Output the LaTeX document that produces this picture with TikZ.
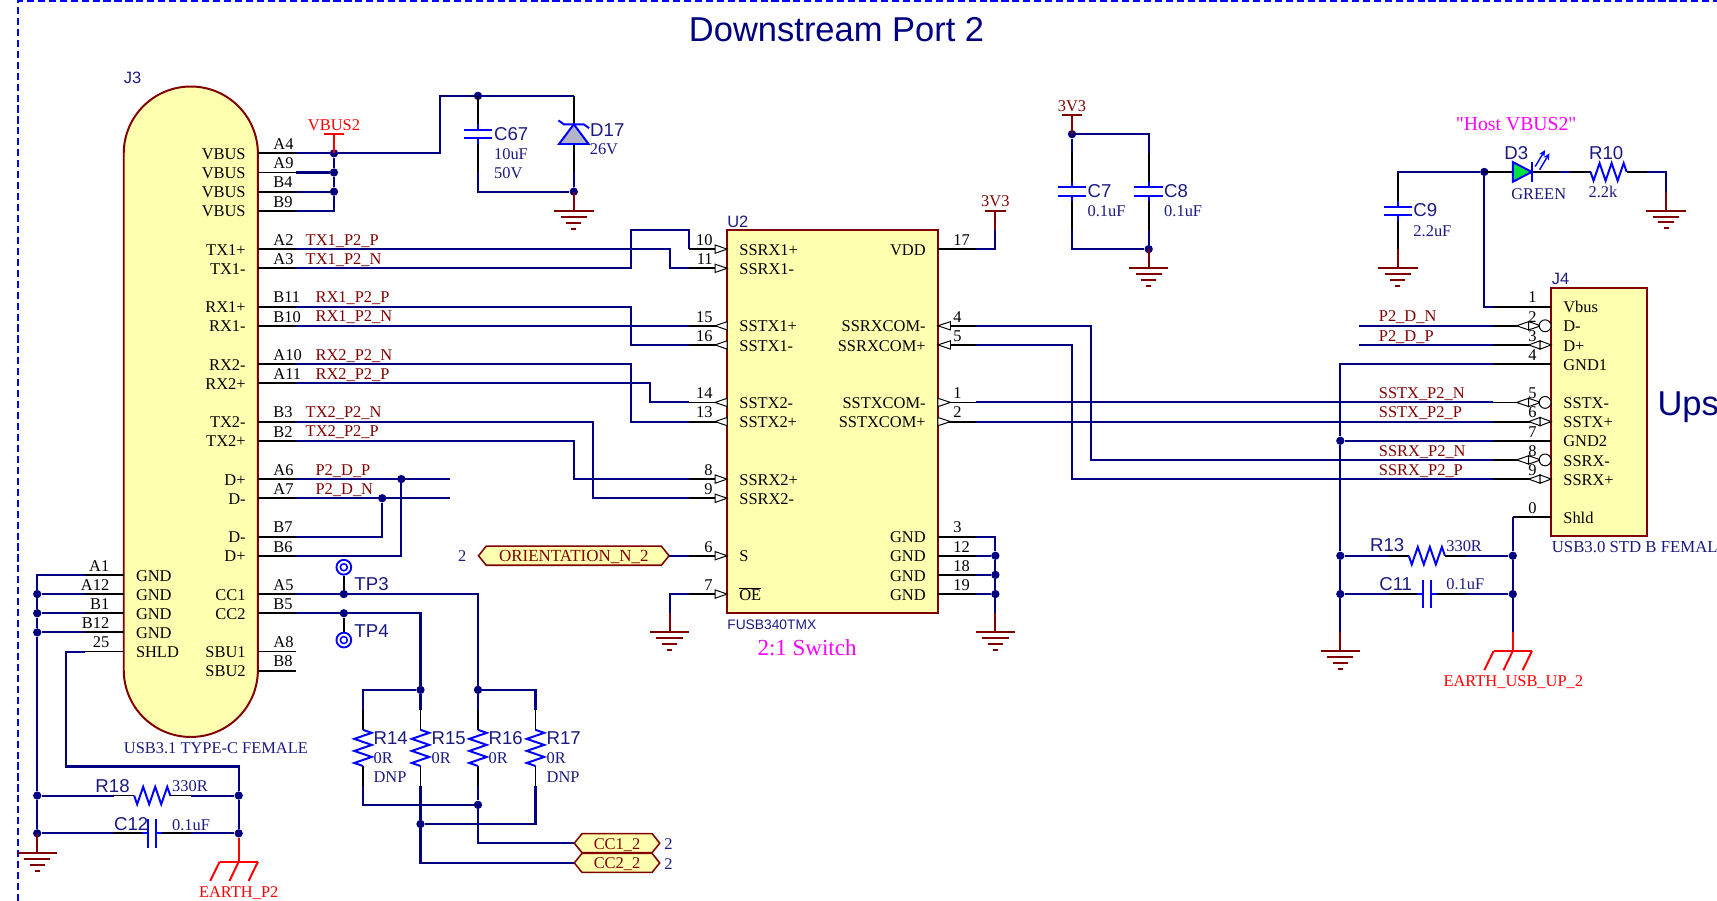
\documentclass[tikz,border=0pt]{standalone}
\usepackage{fontspec}
\usetikzlibrary{arrows.meta}
\setmainfont{Liberation Serif}
\newfontfamily\arialf{Liberation Sans}
\newfontfamily\quotef{Liberation Serif}
\definecolor{wirec}{HTML}{000080}
\definecolor{compb}{HTML}{0000FF}
\definecolor{dkred}{HTML}{800000}
\definecolor{bodyfill}{HTML}{FFFFB0}
\definecolor{txtnavy}{HTML}{1A1A80}
\definecolor{zenerfill}{HTML}{B4B4C8}
\definecolor{ledfill}{HTML}{00E040}
\definecolor{mgt}{HTML}{FF00FF}
\definecolor{netred}{HTML}{FF0000}
\newcounter{tn}
\tikzset{
  wire/.style={draw=wirec,line width=1.9pt,line join=miter},
  lead/.style={draw=black,line width=1.7pt},
  comp/.style={draw=compb,line width=1.8pt,line join=miter},
  rednet/.style={draw=netred,line width=1.8pt},
  gndline/.style={draw=dkred,line width=1.8pt},
  dot/.style={circle,fill=wirec,draw=none,inner sep=0pt,minimum size=7.6pt},
  bodybox/.style={draw=dkred,fill=bodyfill,line width=1.8pt,inner sep=0pt},
  lab/.style={inner sep=0pt,font=\fontsize{15}{15}\selectfont},
  arr/.style={draw=black,fill=white,line width=0.9pt,line join=miter},
}
% left-anchored serif text, given vertical centre of capitals
\newcommand\stxt[4]{\stepcounter{tn}\node[lab,anchor=base west,text=#3] (t\thetn) at (#1,{#2+5.5}) {#4};}
% centred serif text
\newcommand\ctxt[4]{\stepcounter{tn}\node[lab,anchor=base,text=#3] (t\thetn) at (#1,{#2+5.5}) {#4};}
% sans designator
\newcommand\atxt[3]{\stepcounter{tn}\node[inner sep=0pt,anchor=base west,text=txtnavy,font=\arialf\fontsize{17}{17}\selectfont] (t\thetn) at (#1,{#2+6.3}) {#3};}
\newcommand\asmall[4][15]{\stepcounter{tn}\node[inner sep=0pt,anchor=base west,text=txtnavy,font=\arialf\fontsize{#1}{#1}\selectfont] (t\thetn) at (#2,{#3+5.5}) {#4};}
% pins: [length]{id}{body x}{row y}{number}{name}
\newcommand\pinR[6][35]{%
  \coordinate (#2) at ({#3+#1},#4);
  \draw[lead] (#3,#4) -- (#2);
  \node[lab,anchor=base west] (#2-n) at ({#3+14},{#4-3.4}) {#5};
  \node[lab,anchor=base east] (#2-t) at ({#3-11},{#4+5.6}) {#6};}
\newcommand\pinL[6][35]{%
  \coordinate (#2) at ({#3-#1},#4);
  \draw[lead] (#3,#4) -- (#2);
  \node[lab,anchor=base east] (#2-n) at ({#3-13},{#4-3.4}) {#5};
  \node[lab,anchor=base west] (#2-t) at ({#3+11},{#4+5.6}) {#6};}
\newcommand\tria[3]{\draw[arr] (#1,#3) -- (#2,{#3-3.8}) -- (#2,{#3+3.8}) -- cycle;}
\newcommand\junction[3]{\node[dot] (#1) at (#2,#3) {};}
\newcommand\gnd[3]{%
  \coordinate (#1) at (#2,{#3-17.5});
  \begin{scope}[shift={(#2,#3)}]
  \draw[gndline] (0,-17.5) -- (0,0);
  \draw[gndline] (-18,0) -- (18,0) (-12,5.3) -- (12,5.3) (-7,10.6) -- (7,10.6);
  \draw[gndline] (-2.2,16) -- (2.2,16);
  \end{scope}}
\newcommand\earth[3]{%
  \coordinate (#1) at (#2,{#3-17.5});
  \begin{scope}[shift={(#2,#3)}]
  \draw[rednet] (0,-17.5) -- (0,0);
  \draw[rednet] (-17.5,0) -- (17.5,0);
  \draw[rednet] (-17.5,0) -- (-26,17.5) (0,0) -- (-8.5,17.5) (17.5,0) -- (9,17.5);
  \end{scope}}
\newcommand\pwr[5]{% id,x,bar y,colour,label
  \coordinate (#1) at (#2,{#3+17.5});
  \draw[draw=#4,line width=1.8pt] (#1) -- (#2,#3);
  \draw[draw=#4,line width=1.8pt] ({#2-9.5},#3) -- ({#2+9.5},#3);
  \ctxt{#2}{#3-9}{#4}{#5}}
\newcommand\rv[3]{%
  \begin{scope}[shift={(#2,#3)}]
  \coordinate (#1-a) at (0,-35); \coordinate (#1-b) at (0,35);
  \draw[lead] (#1-a) -- (0,-16.5) (0,16.5) -- (#1-b);
  \draw[comp] (0,-16.5) -- (8,-13.75) -- (-8,-8.25) -- (8,-2.75) -- (-8,2.75) -- (8,8.25) -- (-8,13.75) -- (0,16.5);
  \end{scope}}
\newcommand\rh[3]{%
  \begin{scope}[shift={(#2,#3)}]
  \coordinate (#1-a) at (-35,0); \coordinate (#1-b) at (35,0);
  \draw[lead] (#1-a) -- (-16.5,0) (16.5,0) -- (#1-b);
  \draw[comp] (-16.5,0) -- (-13.75,8) -- (-8.25,-8) -- (-2.75,8) -- (2.75,-8) -- (8.25,8) -- (13.75,-8) -- (16.5,0);
  \end{scope}}
\newcommand\cv[3]{%
  \begin{scope}[shift={(#2,#3)}]
  \coordinate (#1-a) at (0,-35); \coordinate (#1-b) at (0,35);
  \draw[lead] (#1-a) -- (0,-9) (0,9) -- (#1-b);
  \draw[comp] (0,-9) -- (0,-3.9) (0,9) -- (0,3.9);
  \draw[comp] (-13,-3.9) -- (13,-3.9) (-13,3.9) -- (13,3.9);
  \end{scope}}
\newcommand\ch[3]{%
  \begin{scope}[shift={(#2,#3)}]
  \coordinate (#1-a) at (-35,0); \coordinate (#1-b) at (35,0);
  \draw[lead] (#1-a) -- (-9,0) (9,0) -- (#1-b);
  \draw[comp] (-9,0) -- (-3.9,0) (9,0) -- (3.9,0);
  \draw[comp] (-3.9,-13) -- (-3.9,13) (3.9,-13) -- (3.9,13);
  \end{scope}}
\newcommand\port[6][15]{% [size] id,xl,xr,y,text
  \draw[draw=dkred,fill=bodyfill,line width=1.4pt] (#3,#5) -- ({#3+7},{#5-8.7}) -- ({#4-7},{#5-8.7}) -- (#4,#5) -- ({#4-7},{#5+8.7}) -- ({#3+7},{#5+8.7}) -- cycle;
  \coordinate (#2-l) at (#3,#5); \coordinate (#2-r) at (#4,#5);
  \node[inner sep=0pt,anchor=base,text=dkred,font=\fontsize{#1}{#1}\selectfont] (#2) at ({(#3+#4)/2},{#5+5.5}) {#6};}
\newcommand\testpt[3]{%
  \node[circle,draw=compb,line width=1.7pt,minimum size=13.5pt,inner sep=0pt] (#1) at (#2,#3) {};
  \draw[comp,line width=1.4pt] (#2,#3) circle[radius=3.2];}
\begin{document}
\begin{tikzpicture}[x=1pt,y=-1pt]
\useasboundingbox (0,0) rectangle (1568,822.8);
% frame
\coordinate (frameTL) at (16.5,0.8);
\coordinate (frameTR) at (1568,0.8);
\coordinate (frameBL) at (16.5,822.8);
\draw[draw=compb,line width=1.5pt,dash pattern=on 6.5pt off 3.5pt] (frameBL) -- (frameTL) -- (frameTR);
% titles
\stepcounter{tn}\node[inner sep=0pt,anchor=base west,text=wirec,font=\arialf\fontsize{31.5}{32}\selectfont] (title) at (629,38) {Downstream Port 2};
\node[inner sep=0pt,anchor=base west,text=wirec,font=\arialf\fontsize{31.5}{32}\selectfont] (upstitle) at (1513.5,379) {Ups};
% bodies
\node[bodybox,rounded corners=61.2pt,minimum width=122.5pt,minimum height=594pt] (J3) at (174.25,376) {};
\node[bodybox,minimum width=192.5pt,minimum height=350pt] (U2) at (760.25,385) {};
\node[bodybox,minimum width=87.5pt,minimum height=227pt] (J4) at (1460.25,376.1) {};
\asmall{113}{70.6}{J3}
\asmall{664}{202}{U2}
\asmall{1417}{254}{J4}
\asmall[12.6]{664}{569.5}{FUSB340TMX}
\stxt{113}{683}{txtnavy}{USB3.1 TYPE-C FEMALE}
\stxt{1417}{499}{txtnavy}{\fontsize{15.3}{15}\selectfont USB3.0 STD B FEMAL}
\stepcounter{tn}\node[inner sep=0pt,anchor=base,text=mgt,font=\fontsize{21}{21}\selectfont] (switchlab) at (737,599) {2:1 Switch};
\stepcounter{tn}\node[inner sep=0pt,anchor=base,text=mgt,font=\quotef\fontsize{18}{18}\selectfont] (hostlab) at (1384.6,119) {"Host VBUS2"};
% J3 pins
\pinR{jAf}{235.5}{140}{A4}{VBUS}
\pinR{jAn}{235.5}{157.5}{A9}{VBUS}
\pinR{jBf}{235.5}{175}{B4}{VBUS}
\pinR{jBn}{235.5}{192.5}{B9}{VBUS}
\pinR{jAtw}{235.5}{227.5}{A2}{TX1+}
\pinR{jAth}{235.5}{245}{A3}{TX1-}
\pinR{jBel}{235.5}{280}{B11}{RX1+}
\pinR{jBte}{235.5}{297.5}{B10}{RX1-}
\pinR{jAte}{235.5}{332.5}{A10}{RX2-}
\pinR{jAel}{235.5}{350}{A11}{RX2+}
\pinR{jBth}{235.5}{385}{B3}{TX2-}
\pinR{jBtw}{235.5}{402.5}{B2}{TX2+}
\pinR{jAsi}{235.5}{437.5}{A6}{D+}
\pinR{jAse}{235.5}{455}{A7}{D-}
\pinR{jBse}{235.5}{490}{B7}{D-}
\pinR{jBsi}{235.5}{507.5}{B6}{D+}
\pinR{jAfi}{235.5}{542.5}{A5}{CC1}
\pinR{jBfi}{235.5}{560}{B5}{CC2}
\pinR{jAei}{235.5}{595}{A8}{SBU1}
\pinR{jBei}{235.5}{612.5}{B8}{SBU2}
\pinL{jAo}{113}{525}{A1}{GND}
\pinL{jAtwl}{113}{542.5}{A12}{GND}
\pinL{jBo}{113}{560}{B1}{GND}
\pinL{jBtwl}{113}{577.5}{B12}{GND}
\pinL{jS}{113}{595}{25}{SHLD}
% U2 pins
\pinL{uTen}{664}{227.5}{10}{SSRX1+}
\pinL{uEle}{664}{245}{11}{SSRX1-}
\pinL{uFif}{664}{297.5}{15}{SSTX1+}
\pinL{uSix}{664}{315}{16}{SSTX1-}
\pinL{uFou}{664}{367.5}{14}{SSTX2-}
\pinL{uThi}{664}{385}{13}{SSTX2+}
\pinL{uEig}{664}{437.5}{8}{SSRX2+}
\pinL{uNin}{664}{455}{9}{SSRX2-}
\pinL{uSel}{664}{507.5}{6}{S}
\pinL{uOe}{664}{542.5}{7}{$\overline{\hbox{OE}}$}
\pinR{uVdd}{856.5}{227.5}{17}{VDD}
\pinR{uCfo}{856.5}{297.5}{4}{SSRXCOM-}
\pinR{uCfi}{856.5}{315}{5}{SSRXCOM+}
\pinR{uCon}{856.5}{367.5}{1}{SSTXCOM-}
\pinR{uCtw}{856.5}{385}{2}{SSTXCOM+}
\pinR{uGa}{856.5}{490}{3}{GND}
\pinR{uGb}{856.5}{507.5}{12}{GND}
\pinR{uGc}{856.5}{525}{18}{GND}
\pinR{uGd}{856.5}{542.5}{19}{GND}
\tria{664}{653}{227.5}\tria{664}{653}{245}
\tria{653}{664}{297.5}\tria{653}{664}{315}
\tria{653}{664}{367.5}\tria{653}{664}{385}
\tria{664}{653}{437.5}\tria{664}{653}{455}
\tria{664}{653}{507.5}\tria{664}{653}{542.5}
\tria{856.5}{868}{297.5}\tria{856.5}{868}{315}
\tria{868}{856.5}{367.5}\tria{868}{856.5}{385}
% J4 pins
\pinL[53]{kVb}{1416.5}{280}{1}{Vbus}
\pinL[53]{kDm}{1416.5}{297.5}{2}{D-}
\pinL[53]{kDp}{1416.5}{315}{3}{D+}
\pinL[53]{kGa}{1416.5}{332.5}{4}{GND1}
\pinL[53]{kTm}{1416.5}{367.5}{5}{SSTX-}
\pinL[53]{kTp}{1416.5}{385}{6}{SSTX+}
\pinL[53]{kGb}{1416.5}{402.5}{7}{GND2}
\pinL[53]{kRm}{1416.5}{420}{8}{SSRX-}
\pinL[53]{kRp}{1416.5}{437.5}{9}{SSRX+}
\pinL{kSh}{1416.5}{472.5}{0}{Shld}
% bidirectional pin marks
\newcommand\bidiDot[1]{\tria{1385}{1396}{#1}\tria{1407}{1396}{#1}\draw[arr] (1411,#1) circle[radius=5.4];}
\newcommand\bidi[1]{\tria{1396}{1406.5}{#1}\tria{1416.5}{1406.5}{#1}}
\bidiDot{297.5}\bidi{315}\bidiDot{367.5}\bidi{385}\bidiDot{420}\bidi{437.5}
% junctions
\junction{vbA}{305}{140}\junction{vbB}{305}{157.5}\junction{vbC}{305}{175}
\junction{ctop}{436.5}{87.5}\junction{dbot}{524}{175}
\junction{dpj}{366.5}{437.5}\junction{dnj}{349}{455}
\junction{tpa}{314}{542.5}\junction{tpb}{314}{560}
\junction{ccb}{384}{630}\junction{cca}{436.5}{630}
\junction{ccab}{436.5}{735}\junction{ccbb}{384}{752.5}
\junction{lA}{34}{542.5}\junction{lB}{34}{560}\junction{lC}{34}{577.5}\junction{lD}{34}{726.5}\junction{lE}{34}{761}
\junction{rD}{218}{726.5}\junction{rE}{218}{761}
\junction{gA}{909}{507.5}\junction{gB}{909}{525}\junction{gC}{909}{542.5}
\junction{c7t}{979}{122.5}\junction{c8b}{1049}{227.5}
\junction{ledj}{1355.5}{157}
\junction{kA}{1224}{402.5}\junction{kB}{1224}{507.5}\junction{kC}{1224}{542.5}
\junction{sB}{1381.5}{507.5}\junction{sC}{1381.5}{542.5}
% parts
\cv{Cf}{436.5}{122.5}
\cv{Cg}{979}{175}
\cv{Ch}{1049}{175}
\cv{Ci}{1276.5}{192.5}
\rv{Ra}{331.5}{683}\rv{Rb}{384}{683}\rv{Rc}{436.5}{683}\rv{Rd}{489}{683}
\rh{Re}{139}{726.5}\ch{Cl}{139}{761}
\rh{Rm}{1303}{507.5}\ch{Cm}{1303}{542.5}
\rh{Rj}{1469}{157}
% zener D17
\coordinate (Dza) at (524,87.5);\coordinate (Dzb) at (524,157.5);
\draw[lead] (Dza) -- (524,113.5) (524,131.5) -- (Dzb);
\draw[comp,fill=zenerfill] (524,113.5) -- (537.5,131.5) -- (510.5,131.5) -- cycle;
\draw[comp] (510,110) -- (515,113.5) -- (533,113.5) -- (538,117);
% LED D3
\coordinate (Dla) at (1355.5,157);\coordinate (Dlb) at (1425,157);
\draw[lead] (Dla) -- (1381.6,157) (1398.8,157) -- (Dlb);
\draw[comp,fill=ledfill] (1381.6,148) -- (1398.8,157) -- (1381.6,166) -- cycle;
\draw[comp] (1398.8,147.5) -- (1398.8,166.5);
\draw[comp,line width=1.3pt,-{Stealth[length=6pt,width=5.5pt]}] (1402,152) -- (1411,137);
\draw[comp,line width=1.3pt,-{Stealth[length=6pt,width=5.5pt]}] (1406,155) -- (1415,140);
% power
\pwr{vbp}{305}{122.5}{netred}{VBUS2}
\pwr{vdp}{909}{192.5}{dkred}{3V3}
\pwr{c7p}{979}{105}{dkred}{3V3}
% grounds
\gnd{g1}{524}{193}
\gnd{g2}{34}{779}
\gnd{g3}{611.5}{577.5}
\gnd{g4}{909}{577.5}
\gnd{g5}{1049}{245}
\gnd{g6}{1276.5}{245}
\gnd{g7}{1521.5}{192.5}
\gnd{g8}{1224}{594.5}
\earth{e1}{218}{787}
\earth{e2}{1381.5}{594.5}
\draw[rednet] (rE) -- (e1);
% ports
\port[15.5]{pOr}{437}{611}{507.5}{ORIENTATION\_N\_2}
\port{pCa}{524.5}{602.5}{770}{CC1\_2}
\port{pCb}{524.5}{602.5}{788}{CC2\_2}
% test points
\testpt{tpc}{314}{518}\testpt{tpd}{314}{584.5}
\draw[lead] (tpa) -- (tpc) (tpb) -- (tpd);
% wires
\draw[wire] (jAf) -- (vbA);\draw[wire] (jAn) -- (vbB);\draw[wire] (jBf) -- (vbC);
\draw[wire] (jBn) -- (305,192.5) -- (vbC);\draw[wire] (vbC) -- (vbB);\draw[wire] (vbB) -- (vbA);
\draw[rednet] (vbp) -- (vbA);
\draw[wire] (vbA) -- (402,140) -- (402,87.5) -- (ctop);
\draw[wire] (ctop) -- (Cf-a);\draw[wire] (ctop) -- (Dza);
\draw[wire] (Cf-b) -- (436.5,175) -- (dbot);\draw[wire] (Dzb) -- (dbot);
\draw[gndline] (dbot) -- (g1);
\draw[wire] (jAtw) -- (611.5,227.5) -- (611.5,245) -- (uEle);
\draw[wire] (jAth) -- (576.5,245) -- (576.5,210) -- (629,210) -- (uTen);
\draw[wire] (jBel) -- (576.5,280) -- (576.5,315) -- (uSix);
\draw[wire] (jBte) -- (uFif);
\draw[wire] (jAte) -- (576.5,332.5) -- (576.5,385) -- (uThi);
\draw[wire] (jAel) -- (594,350) -- (594,367.5) -- (uFou);
\draw[wire] (jBth) -- (541.5,385) -- (541.5,455) -- (uNin);
\draw[wire] (jBtw) -- (524,402.5) -- (524,437.5) -- (uEig);
\coordinate (dpend) at (411,437.5);\coordinate (dnend) at (411,455);
\draw[wire] (jAsi) -- (dpend);\draw[wire] (jAse) -- (dnend);
\draw[wire] (jBse) -- (349,490) -- (dnj);
\draw[wire] (jBsi) -- (366.5,507.5) -- (dpj);
\draw[wire] (jAfi) -- (436.5,542.5) -- (cca);
\draw[wire] (jBfi) -- (384,560) -- (ccb);
\draw[wire] (ccb) -- (331.5,630) -- (Ra-a);\draw[wire] (ccb) -- (Rb-a);
\draw[wire] (cca) -- (Rc-a);\draw[wire] (cca) -- (489,630) -- (Rd-a);
\draw[wire] (Ra-b) -- (331.5,735) -- (ccab);\draw[wire] (Rc-b) -- (ccab);
\draw[wire] (Rd-b) -- (489,752.5) -- (ccbb);\draw[wire] (Rb-b) -- (ccbb);
\draw[wire] (ccab) -- (436.5,770) -- (pCa-l);
\draw[wire] (ccbb) -- (384,788) -- (pCb-l);
\draw[wire] (pOr-r) -- (uSel);
\draw[wire] (uOe) -- (611.5,542.5) -- (g3);
\draw[wire] (uVdd) -- (909,227.5) -- (vdp);
\draw[wire] (uGa) -- (909,490) -- (gA);\draw[wire] (uGb) -- (gA);\draw[wire] (uGc) -- (gB);\draw[wire] (uGd) -- (gC);
\draw[wire] (gA) -- (gB);\draw[wire] (gB) -- (gC);\draw[wire] (gC) -- (g4);
\draw[gndline] (c7p) -- (c7t);
\draw[wire] (c7t) -- (Cg-a);\draw[wire] (c7t) -- (1049,122.5) -- (Ch-a);
\draw[wire] (Cg-b) -- (979,227.5) -- (c8b);\draw[wire] (Ch-b) -- (c8b);
\draw[gndline] (c8b) -- (g5);
\draw[wire] (jAo) -- (34,525) -- (lA);\draw[wire] (jAtwl) -- (lA);\draw[wire] (jBo) -- (lB);\draw[wire] (jBtwl) -- (lC);
\draw[wire] (lA) -- (lB);\draw[wire] (lB) -- (lC);\draw[wire] (lC) -- (lD);\draw[wire] (lD) -- (lE);
\draw[gndline] (lE) -- (g2);
\draw[wire] (jS) -- (60.5,595) -- (60.5,700) -- (218,700) -- (rD);
\draw[wire] (rD) -- (rE);
\draw[wire] (lD) -- (Re-a);\draw[wire] (Re-b) -- (rD);
\draw[wire] (lE) -- (Cl-a);\draw[wire] (Cl-b) -- (rE);
% right side
\draw[wire] (ledj) -- (1276.5,157) -- (Ci-a);
\draw[wire] (Ci-b) -- (g6);
\draw[lead] (ledj) -- (Dla);
\draw[wire] (Dlb) -- (Rj-a);
\draw[wire] (Rj-b) -- (1521.5,157) -- (g7);
\draw[wire] (ledj) -- (1355.5,280) -- (kVb);
\coordinate (dnl) at (1241,297.5);\coordinate (dpl) at (1241,315);
\draw[wire] (dnl) -- (kDm);\draw[wire] (dpl) -- (kDp);
\draw[wire] (kGa) -- (1224,332.5) -- (kA);
\draw[wire] (kGb) -- (kA);\draw[wire] (kA) -- (kB);\draw[wire] (kB) -- (kC);\draw[wire] (kC) -- (g8);
\draw[wire] (uCon) -- (kTm);\draw[wire] (uCtw) -- (kTp);
\draw[wire] (uCfo) -- (996.5,297.5) -- (996.5,420) -- (kRm);
\draw[wire] (uCfi) -- (979,315) -- (979,437.5) -- (kRp);
\draw[wire] (kSh) -- (1381.5,472.5) -- (sB);
\draw[wire] (sB) -- (sC);\draw[wire] (sC) -- (e2);
\draw[wire] (kB) -- (Rm-a);\draw[wire] (Rm-b) -- (sB);
\draw[wire] (kC) -- (Cm-a);\draw[wire] (Cm-b) -- (sC);
% net labels
\stxt{279}{218.5}{dkred}{TX1\_P2\_P}
\stxt{279}{236}{dkred}{TX1\_P2\_N}
\stxt{288}{271}{dkred}{RX1\_P2\_P}
\stxt{288}{288.5}{dkred}{RX1\_P2\_N}
\stxt{288}{323.5}{dkred}{RX2\_P2\_N}
\stxt{288}{341}{dkred}{RX2\_P2\_P}
\stxt{279}{376}{dkred}{TX2\_P2\_N}
\stxt{279}{393.5}{dkred}{TX2\_P2\_P}
\stxt{288}{428.5}{dkred}{P2\_D\_P}
\stxt{288}{446}{dkred}{P2\_D\_N}
\stxt{1259}{288.5}{dkred}{P2\_D\_N}
\stxt{1259}{306}{dkred}{P2\_D\_P}
\stxt{1259}{358.5}{dkred}{SSTX\_P2\_N}
\stxt{1259}{376}{dkred}{SSTX\_P2\_P}
\stxt{1259}{411}{dkred}{SSRX\_P2\_N}
\stxt{1259}{428.5}{dkred}{SSRX\_P2\_P}
\stepcounter{tn}\node[lab,anchor=base,text=netred] (earthP) at (218,820) {EARTH\_P2};
\stepcounter{tn}\node[lab,anchor=base,text=netred] (earthU) at (1382,626.5) {EARTH\_USB\_UP\_2};
\ctxt{422}{507.5}{txtnavy}{2}
\stxt{606.5}{770.5}{txtnavy}{2}
\stxt{606.5}{788.5}{txtnavy}{2}
% part labels
\atxt{451}{122.4}{C67}\stxt{451}{140.6}{txtnavy}{10uF}\stxt{451}{157.6}{txtnavy}{50V}
\atxt{538.8}{118.6}{D17}\stxt{538.4}{136}{txtnavy}{26V}
\atxt{993}{173.6}{C7}\stxt{993}{192.4}{txtnavy}{0.1uF}
\atxt{1063}{173.6}{C8}\stxt{1063}{192.4}{txtnavy}{0.1uF}
\atxt{1290.6}{191.8}{C9}\stxt{1290.6}{210.7}{txtnavy}{2.2uF}
\atxt{1373.6}{139}{D3}\stxt{1380}{176.6}{txtnavy}{GREEN}
\atxt{1451}{139.5}{R10}\stxt{1450.5}{175}{txtnavy}{2.2k}
\atxt{1251}{497.5}{R13}\stxt{1320.6}{498}{txtnavy}{330R}
\atxt{1259.4}{533}{C11}\stxt{1320.6}{533}{txtnavy}{0.1uF}
\atxt{87}{717}{R18}\stxt{157}{717}{txtnavy}{330R}
\atxt{104}{752}{C12}\stxt{157}{752.6}{txtnavy}{0.1uF}
\atxt{341}{674}{R14}\stxt{341}{692}{txtnavy}{0R}\stxt{341}{709}{txtnavy}{DNP}
\atxt{394}{674}{R15}\stxt{394}{692}{txtnavy}{0R}
\atxt{446}{674}{R16}\stxt{446}{692}{txtnavy}{0R}
\atxt{499}{674}{R17}\stxt{499}{692}{txtnavy}{0R}\stxt{499}{709}{txtnavy}{DNP}
\atxt{323.5}{532.6}{TP3}\atxt{323.5}{576}{TP4}
\end{tikzpicture}
\end{document}
